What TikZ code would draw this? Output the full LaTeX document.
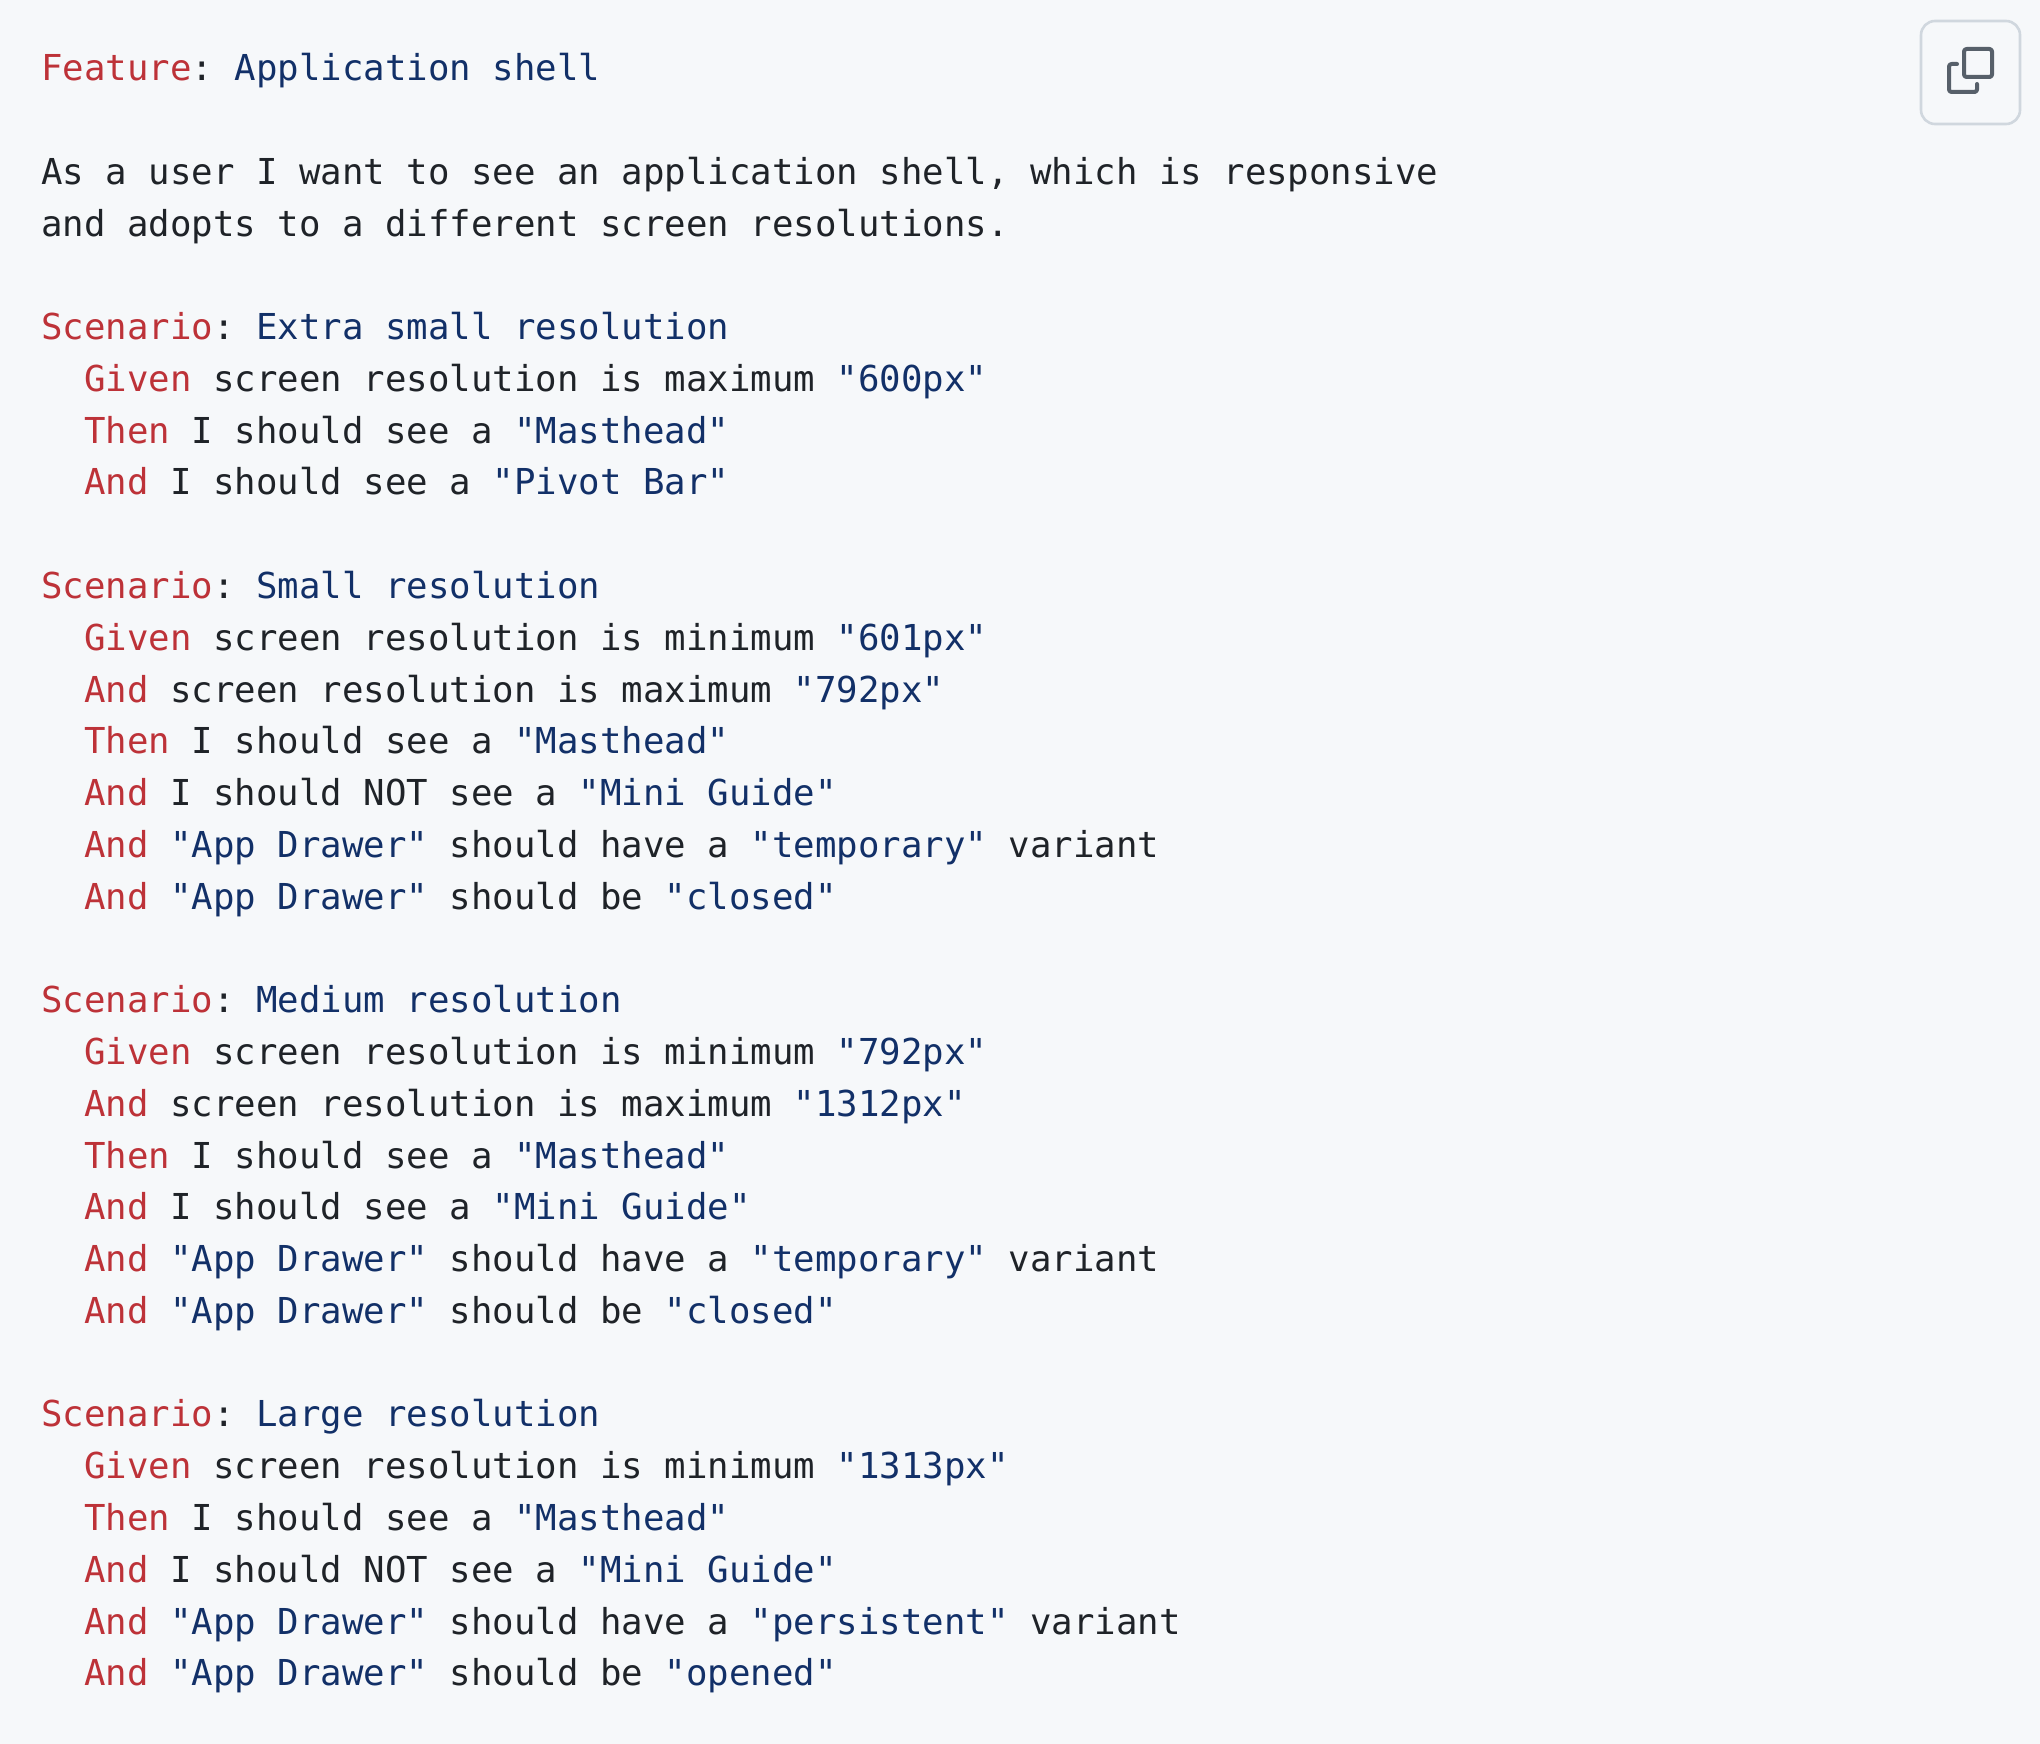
\documentclass[tikz,border=0pt]{standalone}
\usepackage{fontspec}
\newfontfamily\codefont{DejaVu Sans Mono}
\definecolor{bgc}{HTML}{F6F8FA}
\definecolor{redc}{HTML}{BD3238}
\definecolor{bluec}{HTML}{123068}
\definecolor{textc}{HTML}{1F2328}
\definecolor{btnc}{HTML}{D0D7DE}
\definecolor{iconc}{HTML}{57606A}
\newcommand{\R}[1]{\textcolor{redc}{#1}}
\newcommand{\B}[1]{\textcolor{bluec}{#1}}
\tikzset{
  codeline/.style={anchor=base west,inner sep=0pt,outer sep=0pt,text=textc,font=\codefont\fontsize{35.7}{40}\selectfont\frenchspacing},
  iconline/.style={draw=iconc,line width=4pt,line cap=round,line join=round}
}
\newcommand{\cl}[3]{\pgfmathsetmacro{\yy}{80.7+51.78*#1}\pgfmathsetmacro{\xx}{41.5+21.5*#2}\node[codeline] (line#1) at (\xx pt,-\yy pt) {#3};}
\begin{document}
\begin{tikzpicture}[x=1pt,y=-1pt]
\fill[bgc] (0,0) rectangle (2040,1744);
\useasboundingbox (0,0) rectangle (2040,1744);
\cl{0}{0}{\R{Feature}: \B{Application shell}}
\cl{2}{0}{As a user I want to see an application shell, which is responsive}
\cl{3}{0}{and adopts to a different screen resolutions.}
\cl{5}{0}{\R{Scenario}: \B{Extra small resolution}}
\cl{6}{2}{\R{Given} screen resolution is maximum \B{"600px"}}
\cl{7}{2}{\R{Then} I should see a \B{"Masthead"}}
\cl{8}{2}{\R{And} I should see a \B{"Pivot Bar"}}
\cl{10}{0}{\R{Scenario}: \B{Small resolution}}
\cl{11}{2}{\R{Given} screen resolution is minimum \B{"601px"}}
\cl{12}{2}{\R{And} screen resolution is maximum \B{"792px"}}
\cl{13}{2}{\R{Then} I should see a \B{"Masthead"}}
\cl{14}{2}{\R{And} I should NOT see a \B{"Mini Guide"}}
\cl{15}{2}{\R{And} \B{"App Drawer"} should have a \B{"temporary"} variant}
\cl{16}{2}{\R{And} \B{"App Drawer"} should be \B{"closed"}}
\cl{18}{0}{\R{Scenario}: \B{Medium resolution}}
\cl{19}{2}{\R{Given} screen resolution is minimum \B{"792px"}}
\cl{20}{2}{\R{And} screen resolution is maximum \B{"1312px"}}
\cl{21}{2}{\R{Then} I should see a \B{"Masthead"}}
\cl{22}{2}{\R{And} I should see a \B{"Mini Guide"}}
\cl{23}{2}{\R{And} \B{"App Drawer"} should have a \B{"temporary"} variant}
\cl{24}{2}{\R{And} \B{"App Drawer"} should be \B{"closed"}}
\cl{26}{0}{\R{Scenario}: \B{Large resolution}}
\cl{27}{2}{\R{Given} screen resolution is minimum \B{"1313px"}}
\cl{28}{2}{\R{Then} I should see a \B{"Masthead"}}
\cl{29}{2}{\R{And} I should NOT see a \B{"Mini Guide"}}
\cl{30}{2}{\R{And} \B{"App Drawer"} should have a \B{"persistent"} variant}
\cl{31}{2}{\R{And} \B{"App Drawer"} should be \B{"opened"}}
% copy button
\draw[btnc,line width=2.6pt,rounded corners=14pt] (1921,21) rectangle (2020,124);
\draw[iconline,rounded corners=2.5pt] (1964,49) rectangle (1992,77);
\draw[iconline,rounded corners=2.5pt] (1957,64) -- (1949,64) -- (1949,92) -- (1977,92) -- (1977,84);
\end{tikzpicture}
\end{document}
